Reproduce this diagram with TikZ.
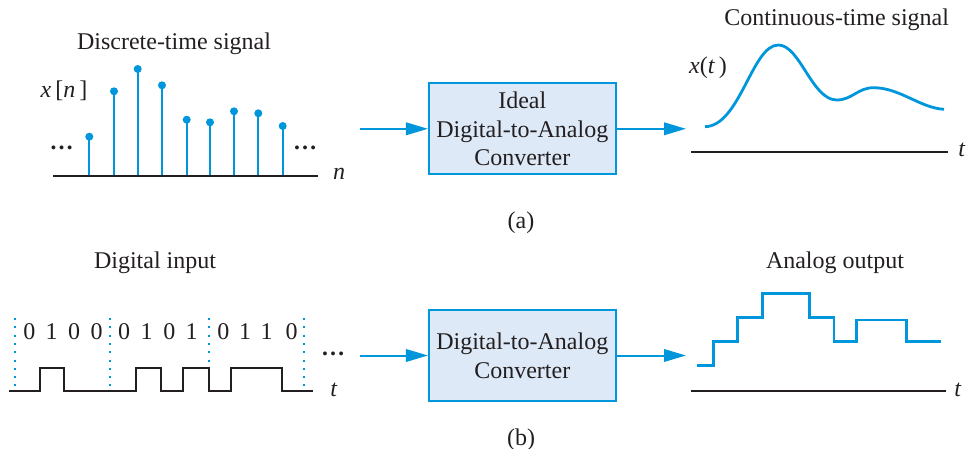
\documentclass[tikz,border=0pt]{standalone}
\usepackage{fontspec}
\setmainfont{Liberation Serif}
\usetikzlibrary{arrows.meta}
\definecolor{dblue}{RGB}{0,150,219}
\definecolor{boxfill}{RGB}{222,233,247}
\definecolor{ink}{RGB}{35,31,32}
\begin{document}
\begin{tikzpicture}[x=1pt,y=-1pt,
  font=\fontsize{24}{28.7}\selectfont, text=ink,
  lbl/.style={anchor=base, inner sep=0pt},
  axisline/.style={line width=2pt, ink},
  sig/.style={line width=2.6pt, dblue, line join=miter},
  stem/.style={line width=2.2pt, dblue},
  conv/.style={draw=dblue, line width=2pt, fill=boxfill, minimum width=186.7pt,
    minimum height=91pt, align=center, inner sep=0pt},
  flow/.style={dblue, line width=2pt, -{Triangle[length=22pt,width=12.5pt]}},
  bitsep/.style={dblue, line width=2pt, dash pattern=on 2pt off 6.3pt},
]
\useasboundingbox (0,0) rectangle (969,449);

% ---------- (a) ----------
\node[lbl] (ttlD) at (174,49.3) {Discrete-time signal};
\node[lbl] (ttlC) at (836.7,26) {Continuous-time signal};

% stem plot
\foreach \x/\y [count=\i] in {89.3/136.7,114/91.3,137.7/69,162/85.3,186.7/119.7,210/122.3,234/111.3,258.3/113.3,282.7/126}{
  \draw[stem] (\x,175.7) -- (\x,\y);
  \fill[dblue] (\x,\y) circle (4pt);
}
\draw[axisline] (53,175.7) -- (318,175.7);
\node[lbl] (xn) at (64,97.5) {\textit{x}\,[\textit{n}\,]};
\node[lbl] (dotsL) at (61.7,150) {\bfseries …};
\node[lbl] (dotsR) at (305,150) {\bfseries …};
\node[lbl] (nlab) at (339,180) {\textit{n}};

% box a
\node[conv] (boxa) at (522.3,128.8) {Ideal\\Digital-to-Analog\\Converter};
\coordinate (ina) at (360,128.8);
\coordinate (outa) at (686,128.8);
\draw[flow] (ina) -- (boxa.west);
\draw[flow] (boxa.east) -- (outa);

% continuous signal
\draw[axisline] (691,152.3) -- (948.3,152.3);
\node[lbl] (tlabA) at (962,157) {\textit{t}};
\node[lbl] (xt) at (708,74) {\textit{x}(\textit{t}\,)};
\draw[sig, line width=2.8pt] (705,126.7) .. controls (740,126) and (752,45) .. (778.3,45)
  .. controls (800,45) and (812,100) .. (836.7,100)
  .. controls (852,100) and (858,87.7) .. (873.3,87.7)
  .. controls (900,87.7) and (920,108) .. (944,109.3);

\node[lbl] (capa) at (521,229) {(a)};

% ---------- (b) ----------
\node[lbl] (ttlDI) at (155,268.3) {Digital input};
\node[lbl] (ttlAO) at (835,268.3) {Analog output};

% digital waveform
\foreach \x in {15,110,209,304.3}{
  \draw[bitsep] (\x,318) -- (\x,387);
}
\foreach \x/\b in {29.3/0,51.7/1,74/0,96.7/0,124/0,146.7/1,169.3/0,191.7/1,223.3/0,245/1,266.7/1,291.7/0}{
  \node[lbl] at (\x,339.3) {\b};
}
\draw[axisline, line join=miter] (9.3,390.7) -- (40,390.7) -- (40,368.3) -- (63.7,368.3) -- (63.7,390.7)
  -- (136,390.7) -- (136,368.3) -- (161,368.3) -- (161,390.7)
  -- (183.3,390.7) -- (183.3,368.3) -- (209.3,368.3) -- (209.3,390.7)
  -- (231.3,390.7) -- (231.3,368.3) -- (281.7,368.3) -- (281.7,390.7) -- (312.7,390.7);
\node[lbl] (dotsB) at (333,355) {\bfseries …};
\node[lbl] (tlabD) at (334,396) {\textit{t}};

% box b
\node[conv] (boxb) at (522.3,355.5) {Digital-to-Analog\\Converter};
\coordinate (inb) at (360,355.5);
\coordinate (outb) at (686,355.5);
\draw[flow] (inb) -- (boxb.west);
\draw[flow] (boxb.east) -- (outb);

% analog staircase
\draw[axisline] (691,390.7) -- (945.7,390.7);
\node[lbl] (tlabB) at (958,396) {\textit{t}};
\draw[sig] (697.3,365.7) -- (713.3,365.7) -- (713.3,341.7) -- (737.3,341.7) -- (737.3,317.7)
  -- (762.3,317.7) -- (762.3,293.3) -- (809.3,293.3) -- (809.3,317.7) -- (834,317.7)
  -- (834,341.7) -- (856.7,341.7) -- (856.7,320) -- (906.7,320) -- (906.7,341.7) -- (940.7,341.7);

\node[lbl] (capb) at (521,445) {(b)};
\end{tikzpicture}
\end{document}
